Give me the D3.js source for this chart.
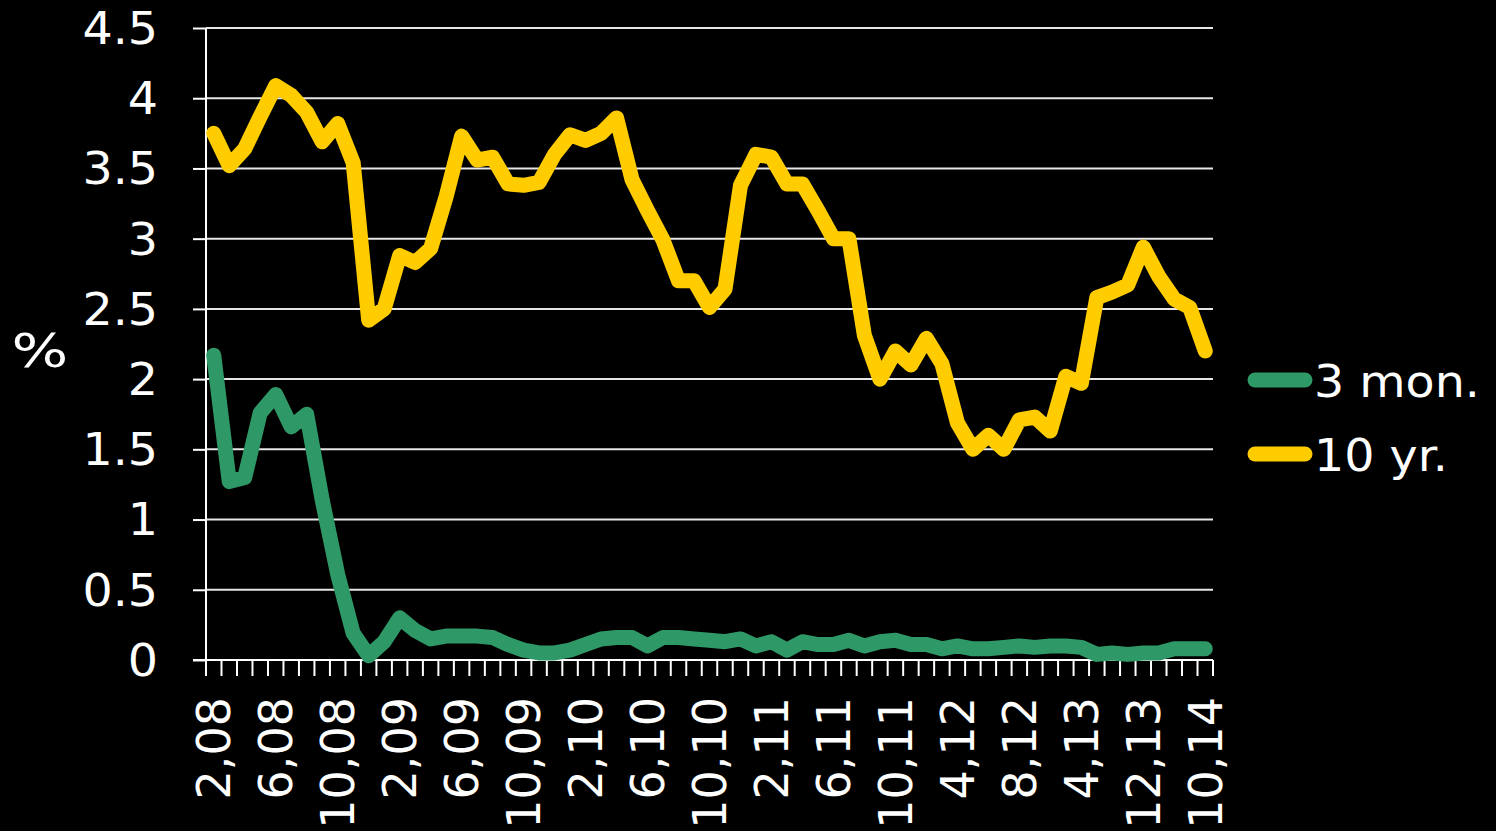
<!DOCTYPE html>
<html><head><meta charset="utf-8">
<script src="https://cdn.jsdelivr.net/npm/d3@7"></script>
<style>
html,body{margin:0;padding:0;background:#000;}
svg{display:block;}
text{font-family:"DejaVu Sans",sans-serif;fill:#fff;}
</style></head>
<body>
<svg id="c" width="1496" height="831"></svg>
<script>
const categories = ["2/08","3/08","4/08","5/08","6/08","7/08","8/08","9/08","10/08","11/08","12/08","1/09",
"2/09","3/09","4/09","5/09","6/09","7/09","8/09","9/09","10/09","11/09","12/09","1/10",
"2/10","3/10","4/10","5/10","6/10","7/10","8/10","9/10","10/10","11/10","12/10","1/11",
"2/11","3/11","4/11","5/11","6/11","7/11","8/11","9/11","10/11","12/11","1/12","2/12",
"4/12","5/12","6/12","7/12","8/12","10/12","12/12","2/13","4/13","6/13","8/13","10/13",
"12/13","3/14","5/14","8/14","10/14"];
const threeMonth = [2.17,1.27,1.30,1.76,1.89,1.66,1.75,1.14,0.61,0.19,0.03,0.13,
0.30,0.21,0.15,0.17,0.17,0.17,0.16,0.11,0.07,0.05,0.05,0.07,
0.11,0.15,0.16,0.16,0.10,0.16,0.16,0.15,0.14,0.13,0.15,0.10,
0.13,0.07,0.13,0.11,0.11,0.14,0.10,0.13,0.14,0.11,0.11,0.08,
0.10,0.08,0.08,0.09,0.10,0.09,0.10,0.10,0.09,0.04,0.05,0.04,
0.05,0.05,0.08,0.08,0.08];
const tenYear = [3.75,3.52,3.64,3.87,4.09,4.02,3.90,3.69,3.82,3.54,2.42,2.50,
2.88,2.83,2.93,3.30,3.73,3.56,3.58,3.39,3.38,3.40,3.60,3.74,
3.70,3.75,3.86,3.42,3.20,2.99,2.70,2.70,2.51,2.64,3.38,3.60,
3.58,3.39,3.39,3.20,3.00,3.00,2.31,2.00,2.20,2.10,2.29,2.11,
1.69,1.50,1.60,1.50,1.71,1.73,1.63,2.02,1.97,2.58,2.62,2.67,
2.94,2.73,2.57,2.51,2.20];
const yTicks = [0,0.5,1,1.5,2,2.5,3,3.5,4,4.5];
const seriesNames = ["3 mon.","10 yr."];
const seriesColors = ["#2e9966","#ffcc00"];

const svg = d3.select("#c");
const pLeft = 206, pRight = 1213, pTop = 28, pBottom = 660;
const x = d3.scaleBand().domain(d3.range(categories.length)).range([pLeft,pRight]).padding(0);
const y = d3.scaleLinear().domain([0,4.5]).range([pBottom,pTop]);

// gridlines
svg.append("g").selectAll("line").data(yTicks.filter(d=>d>0)).join("line")
  .attr("x1",pLeft).attr("x2",pRight).attr("y1",d=>y(d)).attr("y2",d=>y(d))
  .attr("stroke","#e6e6e6").attr("stroke-width",2);

// y axis
const ya = svg.append("g").attr("transform",`translate(${pLeft},0)`)
  .call(d3.axisLeft(y).tickValues(yTicks).tickSize(13).tickFormat(d=>String(d)));
ya.select(".domain").attr("stroke","#fff").attr("stroke-width",2).attr("d",`M0,${pTop}V${pBottom+16}`);
ya.selectAll(".tick line").attr("stroke","#fff").attr("stroke-width",2);
ya.selectAll(".tick text").attr("x",null).attr("dy",null).attr("font-size",44)
  .attr("text-anchor","end").attr("dominant-baseline","central")
  .attr("transform","translate(-48,0) scale(1.08,1)").style("font-family","DejaVu Sans").attr("fill","#fff");

// x axis line + ticks at band edges
const xa = svg.append("g");
xa.append("line").attr("x1",pLeft-13).attr("x2",pRight).attr("y1",pBottom).attr("y2",pBottom)
  .attr("stroke","#fff").attr("stroke-width",2);
const edges = x.domain().map(i=>x(i)).concat([pRight]);
xa.selectAll("line.tk").data(edges).join("line").attr("class","tk")
  .attr("x1",d=>d).attr("x2",d=>d).attr("y1",pBottom).attr("y2",pBottom+16)
  .attr("stroke","#fff").attr("stroke-width",2);

// x labels
const labelIdx = d3.range(0,categories.length,4);
svg.append("g").selectAll("text").data(labelIdx).join("text")
  .attr("transform",i=>`translate(${x(i)+x.bandwidth()/2},697) rotate(-90)`)
  .attr("text-anchor","end").attr("dy","0.36em").attr("font-size",46)
  .text(i=>categories[i].replace("/",","));

// lines
const line = d3.line().x((d,i)=>x(i)+x.bandwidth()/2).y(d=>y(d));
[threeMonth,tenYear].forEach((s,k)=>{
  svg.append("path").attr("d",line(s)).attr("fill","none")
    .attr("stroke",seriesColors[k]).attr("stroke-width",15)
    .attr("stroke-linejoin","round").attr("stroke-linecap","round");
});

// y title
svg.append("text").attr("transform","translate(40,351) scale(1.3,1)")
  .attr("text-anchor","middle").attr("dominant-baseline","central")
  .attr("font-size",46).text("%");

// legend
const lg = svg.append("g");
seriesNames.forEach((n,k)=>{
  const cy = 380 + k*74;
  lg.append("line").attr("x1",1255).attr("x2",1305).attr("y1",cy).attr("y2",cy)
    .attr("stroke",seriesColors[k]).attr("stroke-width",15).attr("stroke-linecap","round");
  lg.append("text").attr("transform",`translate(1314,${cy+17}) scale(1.08,1)`).attr("font-size",44).text(n);
});
</script>
</body></html>
